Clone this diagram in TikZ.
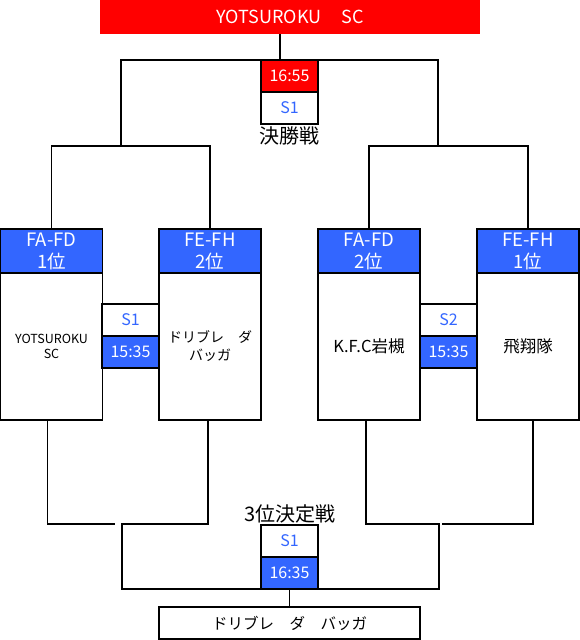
\documentclass[tikz,border=0pt]{standalone}
\usepackage{fontspec}
\setmainfont{Noto Sans CJK JP}
\usetikzlibrary{positioning}

\definecolor{winred}{HTML}{FF0000}
\definecolor{headblue}{HTML}{3366FF}
\definecolor{courtblue}{HTML}{3366FF}

\begin{document}
\begin{tikzpicture}[
        x=1pt, y=-1pt,
        node distance=0pt,
        line width=1.1pt,
        head/.style={
          draw,
          fill=headblue,
          text=white,
          align=center,
          minimum width=102pt,
          minimum height=44pt,
          inner sep=0pt,
          outer sep=0pt,
          font=\fontsize{18.5}{22}\selectfont
        },
        team/.style={
          draw,
          fill=white,
          align=center,
          minimum width=102pt,
          minimum height=147pt,
          inner sep=0pt,
          outer sep=0pt
        },
        court/.style={
          draw,
          fill=white,
          text=courtblue,
          minimum width=57pt,
          minimum height=32pt,
          inner sep=0pt,
          outer sep=0pt,
          font=\fontsize{16}{16}\selectfont
        },
        slot/.style={court, fill=headblue, text=white},
        title/.style={inner sep=0pt, font=\fontsize{20}{20}\selectfont}
      ]

        \useasboundingbox (0,0) rectangle (580,640);

        % winner and final
        \node[fill=winred, text=white, minimum width=380pt, minimum height=34pt,
              inner sep=0pt, outer sep=0pt, font=\fontsize{18}{18}\selectfont]
              (champ) at (290,17) {YOTSUROKU\hspace{20pt}SC};
        \node[court, fill=winred, text=white] (fintime) at (289.5,76) {16:55};
        \node[court, below=of fintime] (final) {S1};
        \node[title, below=2pt of final] (finlabel) {決勝戦};

        % semi final teams
        \node[head] (h1) at (51.5,251) {FA-FD\\1位};
        \node[team, below=of h1, font=\fontsize{12.5}{15}\selectfont] (t1) {YOTSUROKU\\SC};
        \node[head] (h2) at (210,251) {FE-FH\\2位};
        \node[team, below=of h2, font=\fontsize{14}{18}\selectfont] (t2) {ドリブレ　ダ\\バッガ};
        \node[head] (h3) at (369,251) {FA-FD\\2位};
        \node[team, below=of h3, font=\fontsize{16.5}{18}\selectfont] (t3) {K.F.C岩槻};
        \node[head] (h4) at (528,251) {FE-FH\\1位};
        \node[team, below=of h4, font=\fontsize{16.5}{18}\selectfont] (t4) {飛翔隊};

        \node[court] (semi1) at (130.5,320) {S1};
        \node[slot, below=of semi1] (semi1time) {15:35};
        \node[court] (semi2) at (448.5,320) {S2};
        \node[slot, below=of semi2] (semi2time) {15:35};

        % third place
        \node[title] (thirdlabel) at (290,514) {3位決定戦};
        \node[court] (third) at (289.5,541) {S1};
        \node[slot, below=of third] (thirdtime) {16:35};
        \node[draw, minimum width=261pt, minimum height=32pt, inner sep=0pt, outer sep=0pt,
              below=18pt of thirdtime, font=\fontsize{15.5}{18}\selectfont]
              (thirdwin) {ドリブレ　ダ　バッガ};

        % bracket lines
        \coordinate (stem) at (280,60);
        \coordinate (jl) at (121,146);
        \coordinate (jr) at (438,146);
        \coordinate (bl) at (122,524);
        \coordinate (bl1) at (115,524);
        \coordinate (br) at (439,524);
        \coordinate (br1) at (442,524);

        \draw (champ.south -| stem) -- (stem);
        \draw (h1.north) |- (jl) |- (fintime.north west);
        \draw (h2.north) |- (jl);
        \draw (h3.north) |- (jr) |- (fintime.north east);
        \draw (h4.north) |- (jr);

        \draw ([xshift=-4pt]t1.south) |- (bl1);
        \draw ([xshift=-2pt]t2.south) |- (bl) |- (thirdtime.south west);
        \draw ([xshift=-3pt]t3.south) |- (br) |- (thirdtime.south east);
        \draw ([xshift=5pt]t4.south) |- (br1);
        \draw (thirdtime.south) -- (thirdwin.north);

      \end{tikzpicture}
\end{document}
